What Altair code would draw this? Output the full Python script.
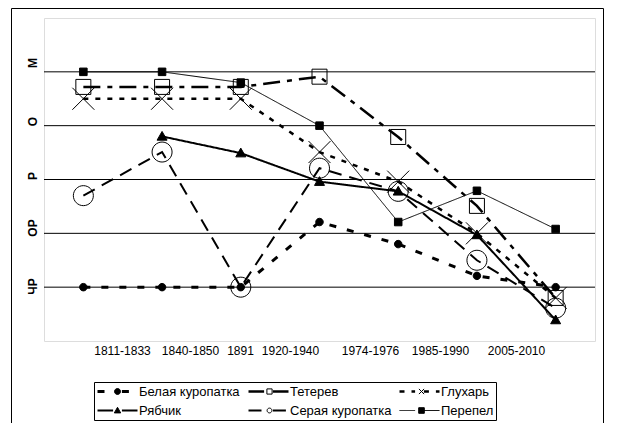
import json
import altair as alt
import pandas as pd

# ---------------- data ----------------
PERIODS = ["1811-1833", "1840-1850", "1891", "1920-1940", "1974-1976", "1985-1990", "2005-2010"]
SERIES = ["Белая куропатка", "Тетерев", "Глухарь", "Рябчик", "Серая куропатка", "Перепел"]
STATUS_LABELS = ["М", "О", "Р", "ОР", "ЧР"]
STATUS_LEVELS = [5, 4, 3, 2, 1]

BELAYA = [1.00, 1.00, 1.00, 2.21, 1.80, 1.21, 1.00]
TETEREV = [4.72, 4.72, 4.72, 4.91, 3.79, 2.51, 0.80]
GLUKHAR = [4.50, 4.50, 4.50, 3.51, 2.96, 2.00, 0.80]
RYABCHIK = [None, 3.80, 3.49, 2.96, 2.78, 1.97, 0.39]
SERAYA = [2.70, 3.51, 1.00, 3.21, 2.78, 1.50, 0.61]
PEREPEL = [5.00, 5.00, 4.80, 4.00, 2.21, 2.79, 2.08]

# marker key: separate field so the marker legend stays separate from the line legend
MARKER_KEYS = [f"{i}|{s}" for i, s in enumerate(SERIES)]

rows = []
for name, key, vals in zip(SERIES, MARKER_KEYS, [BELAYA, TETEREV, GLUKHAR, RYABCHIK, SERAYA, PEREPEL]):
    for i, (per, v) in enumerate(zip(PERIODS, vals)):
        rows.append({"series": name, "marker": key, "period": per, "pos": i + 0.5, "value": v})
df = pd.DataFrame(rows)

# ---------------- styles ----------------
FONT = "Liberation Sans"
X_LABEL_AT = [0.991, 1.855, 2.490, 3.125, 4.142, 5.031, 5.996]
Y_LABEL_AT = [5.174, 4.087, 3.074, 2.108, 1.022]

DASHES = [[7, 11], [17, 7, 5, 7], [5, 7], [1, 0], [13, 8], [1, 0]]
WIDTHS = [3, 2.5, 2.5, 2, 2, 1]

PRE = "M-1,0M1,0"
MARKER_PATHS = [
    PRE + "M-0.15,0A0.15,0.15,0,1,1,0.15,0A0.15,0.15,0,1,1,-0.15,0Z",
    PRE + "M-0.13,-0.13H0.13V0.13H-0.13Z",
    PRE + "M-0.13,-0.13L0.13,0.13M-0.13,0.13L0.13,-0.13",
    PRE + "M0,-0.16L0.16,0.12L-0.16,0.12Z",
    PRE + "M-0.12,0A0.12,0.12,0,1,1,0.12,0A0.12,0.12,0,1,1,-0.12,0Z",
    PRE + "M-0.14,-0.14H0.14V0.14H-0.14Z",
]
MARKER_FILLS = ["black", "transparent", "transparent", "black", "transparent", "black"]
MARKER_SIZES = [2500, 13314, 28639, 3906, 27778, 2900]
GAP_PATH = "M-1,0H-0.22M0.22,0H1"

x_expr = f"{json.dumps(PERIODS)}[indexof({json.dumps(X_LABEL_AT)}, datum.value)]"
y_expr = f"{json.dumps(STATUS_LABELS, ensure_ascii=False)}[indexof({json.dumps(Y_LABEL_AT)}, datum.value)]"

x_axis = alt.Axis(values=X_LABEL_AT, labelExpr=x_expr, title=None, grid=False, ticks=False,
                  domain=False, labelFont=FONT, labelFontSize=12, labelColor="black",
                  labelPadding=4, labelOverlap=False, labelFlush=False, labelBound=False)
y_axis = alt.Axis(values=Y_LABEL_AT, labelExpr=y_expr, title=None, grid=False, ticks=False,
                  domain=False, labelAngle=270, labelAlign="center", labelBaseline="middle",
                  labelFont=FONT, labelFontWeight="bold", labelFontSize=12, labelColor="black",
                  labelPadding=12, labelOverlap=False, labelFlush=False, labelBound=False)

x_scale = alt.Scale(domain=[0, 7], nice=False, zero=False)
y_scale = alt.Scale(domain=[0, 6], nice=False, zero=False)

common_legend = dict(title=None, orient="none", legendX=50, legendY=364, columns=3,
                     direction="horizontal", gridAlign="all", symbolSize=1600,
                     labelFont=FONT, labelFontSize=13, labelColor="black", clipHeight=15,
                     rowPadding=4, columnPadding=6, padding=2, labelLimit=220,
                     symbolStrokeColor="black")
line_legend = alt.Legend(symbolType=GAP_PATH, labelOffset=0, strokeColor="black", **common_legend)
marker_legend = alt.Legend(symbolStrokeWidth=1, symbolOffset=1, labelOffset=2, labelOpacity=0,
                           labelExpr="slice(datum.label, 2)", **common_legend)

grid = alt.Chart(pd.DataFrame({"level": STATUS_LEVELS})).mark_rule(
    color="black", strokeWidth=1
).encode(y=alt.Y("level:Q", scale=y_scale, axis=y_axis))

base = alt.Chart(df)

lines = base.mark_line(color="black").encode(
    x=alt.X("pos:Q", scale=x_scale, axis=x_axis),
    y=alt.Y("value:Q", scale=y_scale, axis=y_axis),
    strokeDash=alt.StrokeDash("series:N", scale=alt.Scale(domain=SERIES, range=DASHES),
                              legend=line_legend),
    strokeWidth=alt.StrokeWidth("series:N",
                                scale=alt.Scale(type="ordinal", domain=SERIES, range=WIDTHS),
                                legend=line_legend),
)

points = base.mark_point(filled=True, stroke="black", strokeWidth=1, opacity=1).encode(
    x=alt.X("pos:Q", scale=x_scale, axis=x_axis),
    y=alt.Y("value:Q", scale=y_scale, axis=y_axis),
    shape=alt.Shape("marker:N", scale=alt.Scale(domain=MARKER_KEYS, range=MARKER_PATHS),
                    legend=marker_legend),
    color=alt.Color("marker:N", scale=alt.Scale(domain=MARKER_KEYS, range=MARKER_FILLS),
                    legend=marker_legend),
    size=alt.Size("series:N", sort=SERIES,
                  scale=alt.Scale(type="ordinal", range=MARKER_SIZES),
                  legend=None),
)

frame = alt.Chart(pd.DataFrame({"k": [0]})).mark_rect(
    fillOpacity=0, stroke="black", strokeWidth=1
).encode(x=alt.value(-32.5), x2=alt.value(559.5), y=alt.value(-9.5), y2=alt.value(405.5))

chart = alt.layer(grid, lines, points, frame).properties(
    width=551, height=323,
    padding={"left": 36, "top": 10, "right": 19, "bottom": 82},
    autosize=alt.AutoSizeParams(type="none"),
).configure_view(stroke="black", strokeWidth=1, fill="white").configure(
    background="white", font=FONT
)

chart.save("out.html", embed_options={"renderer": "svg", "actions": False})
